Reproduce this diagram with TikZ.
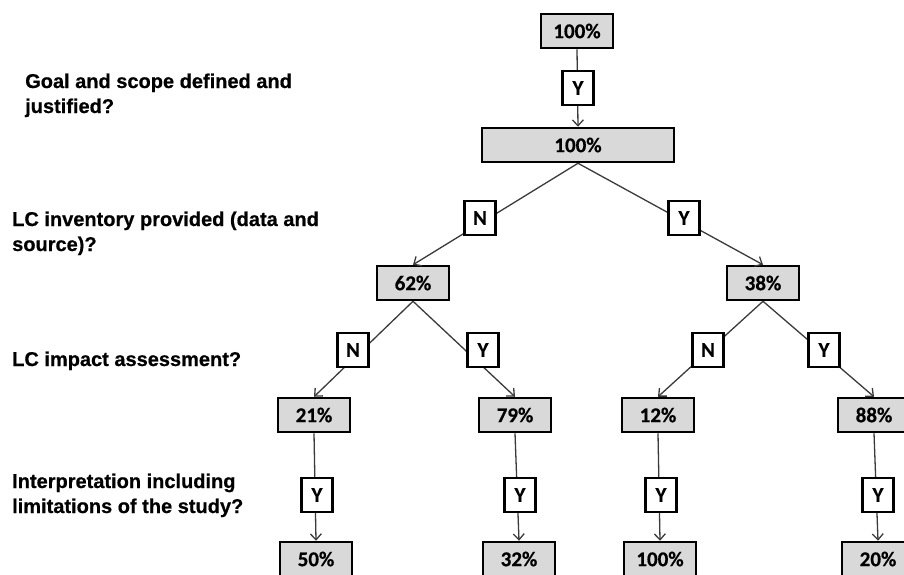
\documentclass[tikz,border=0pt]{standalone}
\usepackage{fontspec}
\setmainfont{Liberation Sans}
\newfontfamily\qfont[BoldFeatures={FakeBold=0.6}]{Liberation Sans}
\newfontfamily\boxfont[BoldFeatures={FakeBold=0.5}]{Carlito}
\usetikzlibrary{arrows.meta}
\definecolor{boxgray}{HTML}{D9D9D9}
\definecolor{linegray}{HTML}{3A3A3A}

\begin{document}
\begin{tikzpicture}[x=1pt,y=-1pt,
  pct/.style={draw=black, line width=2.5pt, fill=boxgray,
    minimum width=72pt, minimum height=34pt, inner sep=0pt,
    font=\boxfont\bfseries\fontsize{21}{23}\selectfont},
  yn/.style={draw=black, line width=2.5pt, fill=white,
    minimum width=31pt, minimum height=34pt, inner sep=0pt,
    font=\boxfont\bfseries\fontsize{21}{23}\selectfont},
  arr/.style={draw=linegray, line width=1.3pt,
    -{Straight Barb[length=6pt,width=11pt]}},
  question/.style={anchor=base west, align=left, inner sep=0pt,
    font=\qfont\bfseries\fontsize{20}{25}\selectfont}
]
\useasboundingbox (0,0) rectangle (904,574);
\clip (0,0) rectangle (904,574);

% questions on the left (anchored at the baseline of the last line)
\node[question] (q1) at (25,113) {Goal and scope defined and\\justified?};
\node[question] (q2) at (12,251) {LC inventory provided (data and\\source)?};
\node[question] (q3) at (12,366) {LC impact assessment?};
\node[question] (q4) at (12,513) {Interpretation including\\limitations of the study?};

% percentage boxes
\node[pct] (top)  at (577,31) {100\%};
\node[pct, minimum width=192pt] (root) at (578,145) {100\%};
\node[pct] (p62)  at (413,283) {62\%};
\node[pct] (p38)  at (763,283) {38\%};
\node[pct] (p21)  at (314,415) {21\%};
\node[pct] (p79)  at (515,415) {79\%};
\node[pct] (p12)  at (658,415) {12\%};
\node[pct] (p88)  at (874,415) {88\%};
\node[pct] (p50)  at (316,559) {50\%};
\node[pct] (p32)  at (519,559) {32\%};
\node[pct] (p100) at (660,559) {100\%};
\node[pct] (p20)  at (878,559) {20\%};

% branches
\draw[arr] (top.south)  -- (root.north);
\draw[arr] (root.south) -- (p62.north);
\draw[arr] (root.south) -- (p38.north);
\draw[arr] (p62.south)  -- (p21.north);
\draw[arr] (p62.south)  -- (p79.north);
\draw[arr] (p38.south)  -- (p12.north);
\draw[arr] (p38.south)  -- (p88.north);
\draw[arr] (p21.south)  -- (p50.north);
\draw[arr] (p79.south)  -- (p32.north);
\draw[arr] (p12.south)  -- (p100.north);
\draw[arr] (p88.south)  -- (p20.north);

% yes / no answers sitting on the branches
\node[yn] (a0)  at (578,88)  {Y};
\node[yn] (a1)  at (480,218) {N};
\node[yn] (a2)  at (684,218) {Y};
\node[yn] (a3)  at (353,350) {N};
\node[yn] (a4)  at (483,350) {Y};
\node[yn] (a5)  at (708,350) {N};
\node[yn] (a6)  at (824,350) {Y};
\node[yn] (a7)  at (317,495) {Y};
\node[yn] (a8)  at (520,495) {Y};
\node[yn] (a9)  at (661,495) {Y};
\node[yn] (a10) at (878,495) {Y};
\end{tikzpicture}
\end{document}
